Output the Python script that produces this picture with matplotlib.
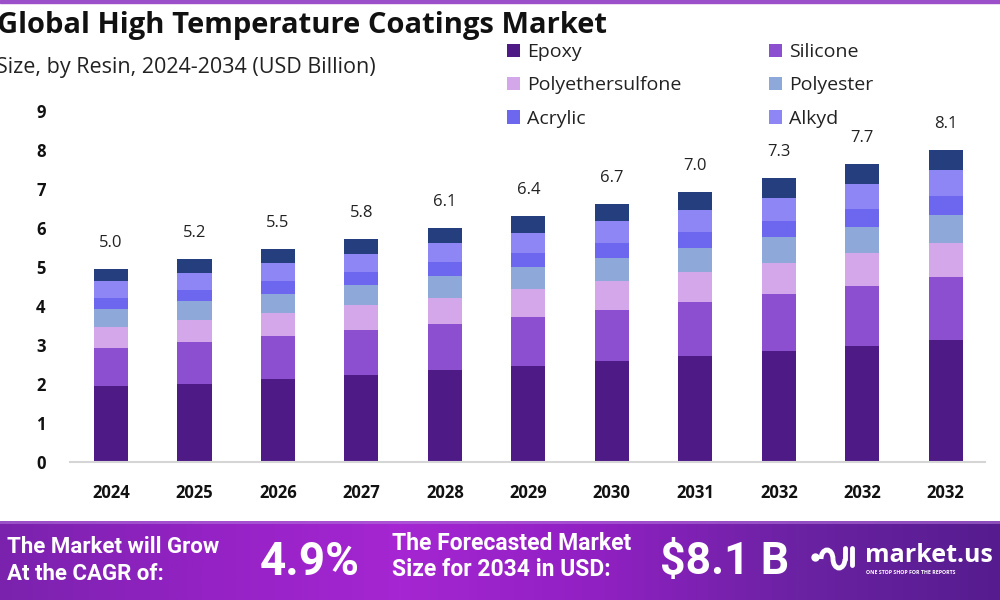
import numpy as np
import matplotlib
matplotlib.use('Agg')
import matplotlib.pyplot as plt
from matplotlib.patches import Rectangle, Arc
from matplotlib.colors import LinearSegmentedColormap

plt.rcParams['font.family'] = ['Open Sans', 'DejaVu Sans']

# data (USD Billion)
years = ['2024', '2025', '2026', '2027', '2028', '2029', '2030', '2031', '2032', '2032', '2032']
epoxy = [1.94, 2.00, 2.12, 2.23, 2.35, 2.46, 2.58, 2.72, 2.84, 2.97, 3.13]
silicone = [0.98, 1.08, 1.11, 1.16, 1.20, 1.27, 1.33, 1.38, 1.46, 1.54, 1.61]
polyethersulfone = [0.55, 0.57, 0.60, 0.63, 0.66, 0.71, 0.73, 0.77, 0.80, 0.85, 0.88]
polyester = [0.46, 0.48, 0.48, 0.52, 0.55, 0.55, 0.60, 0.63, 0.66, 0.66, 0.72]
acrylic = [0.27, 0.29, 0.34, 0.34, 0.36, 0.37, 0.38, 0.41, 0.43, 0.47, 0.48]
alkyd = [0.43, 0.42, 0.45, 0.46, 0.49, 0.50, 0.55, 0.56, 0.58, 0.64, 0.66]
others = [0.32, 0.37, 0.37, 0.38, 0.39, 0.44, 0.45, 0.45, 0.51, 0.51, 0.52]
totals = ['5.0', '5.2', '5.5', '5.8', '6.1', '6.4', '6.7', '7.0', '7.3', '7.7', '8.1']

series = [
    ('Epoxy', epoxy, '#4e1a85'),
    ('Silicone', silicone, '#8b4fcf'),
    ('Polyethersulfone', polyethersulfone, '#d4a6ea'),
    ('Polyester', polyester, '#8fa8da'),
    ('Acrylic', acrylic, '#6d67f0'),
    ('Alkyd', alkyd, '#8e86f5'),
    (None, others, '#253f7e'),
]

fig = plt.figure(figsize=(10, 6), dpi=100)
ax = fig.add_axes([0.07, 0.23, 0.915, 0.585])

x = np.arange(len(years))
bottom = np.zeros(len(years))
handles = {}
for name, vals, col in series:
    b = ax.bar(x, vals, 0.41, bottom=bottom, color=col, linewidth=0, zorder=2)
    if name:
        handles[name] = b
    bottom += np.array(vals)

for xi, top, lab in zip(x, bottom, totals):
    ax.annotate(lab, (xi, top), xytext=(0, 13), textcoords='offset points',
                ha='center', va='bottom', fontsize=12, color='#222222')

ax.set_xlim(-0.49, 10.47)
ax.set_ylim(0, 9)
ax.set_yticks(range(10))
ax.set_xticks(x)
ax.set_xticklabels(years)
ax.tick_params(length=0)
ax.tick_params(axis='x', pad=16)
ax.tick_params(axis='y', pad=21)
for lbl in ax.get_xticklabels() + ax.get_yticklabels():
    lbl.set_fontweight('bold')
    lbl.set_fontsize(12)
    lbl.set_color('#111111')
for lbl in ax.get_yticklabels():
    lbl.set_horizontalalignment('center')
for s in ['top', 'right', 'left']:
    ax.spines[s].set_visible(False)
ax.spines['bottom'].set_color('#d5d5d5')
ax.spines['bottom'].set_linewidth(1.5)

# legend: two columns
order = ['Epoxy', 'Polyethersulfone', 'Acrylic', 'Silicone', 'Polyester', 'Alkyd']
fig.legend([handles[n] for n in order], order, ncol=2, loc='upper left',
           bbox_to_anchor=(0.489, 0.957), frameon=False, fontsize=14,
           handlelength=0.7, handleheight=0.7, handletextpad=0.35,
           columnspacing=4.5, labelspacing=0.78, labelcolor='#222222')

# titles
fig.text(-0.003, 0.958, 'Global High Temperature Coatings Market', fontsize=21,
         fontweight='bold', color='#111111', va='center', ha='left')
fig.text(-0.004, 0.887, 'Size, by Resin, 2024-2034 (USD Billion)', fontsize=15.5,
         color='#222222', va='center', ha='left')

# thin purple line at top
fig.add_artist(Rectangle((0, 1 - 3 / 600), 1, 3 / 600, transform=fig.transFigure,
                         color='#9b4fc9', zorder=5))

# bottom banner
bax = fig.add_axes([0, 0, 1, 79 / 600])
cmap = LinearSegmentedColormap.from_list('ban', ['#7a22ad', '#9422c4', '#a526d2', '#9020c2', '#6b22a3', '#561c8f'])
bax.imshow(np.linspace(0, 1, 400).reshape(1, -1), aspect='auto', cmap=cmap,
           extent=(0, 1000, 0, 79))
bax.set_xlim(0, 1000)
bax.set_ylim(0, 79)
bax.axis('off')
bax.add_patch(Rectangle((0, 76), 1000, 3, color='#b070d8', alpha=0.6, linewidth=0))

cond = ['Roboto', 'DejaVu Sans']
bax.text(7, 53, 'The Market will Grow', fontsize=16, fontweight='bold', color='white',
         family=cond, va='center')
bax.text(7, 26, 'At the CAGR of:', fontsize=16, fontweight='bold', color='white',
         family=cond, va='center')
bax.text(260, 38, '4.9%', fontsize=33, fontweight='bold', color='white',
         family=cond, va='center')
bax.text(392, 57, 'The Forecasted Market', fontsize=16.5, fontweight='bold', color='white',
         family=cond, va='center')
bax.text(392, 30, 'Size for 2034 in USD:', fontsize=16.5, fontweight='bold', color='white',
         family=cond, va='center')
bax.text(660, 38, '$8.1 B', fontsize=32, fontweight='bold', color='white',
         family=cond, va='center')

# logo
bax.plot([815], [43], 'o', color='white', markersize=5)
bax.add_patch(Arc((827, 41), 12, 18, theta1=0, theta2=180, color='white', lw=3.5))
bax.add_patch(Arc((839, 41), 12, 18, theta1=180, theta2=360, color='white', lw=3.5))
bax.plot([845, 845], [41, 52], color='white', lw=3.5, solid_capstyle='round')
bax.plot([852, 852], [35, 52], color='white', lw=3.5, solid_capstyle='round')
bax.text(865, 45, 'market.us', fontsize=18, fontweight='bold', color='white', va='center')
bax.text(866, 28, 'ONE STOP SHOP FOR THE REPORTS', fontsize=3.8, fontweight='bold',
         color='white', va='center')

fig.savefig('out.png', dpi=100)
